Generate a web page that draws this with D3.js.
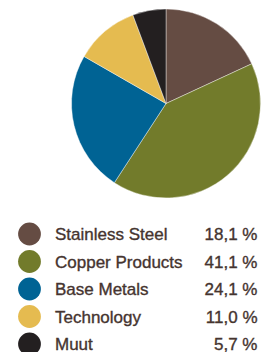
<!DOCTYPE html>
<html><head><meta charset="utf-8">
<script src="https://cdn.jsdelivr.net/npm/d3@7"></script>
<style>html,body{margin:0;padding:0;background:#fff;}</style>
</head><body>
<script>
const categories = ["Stainless Steel","Copper Products","Base Metals","Technology","Muut"];
const values = [18.1, 41.1, 24.1, 11.0, 5.7];
const labels = ["18,1 %","41,1 %","24,1 %","11,0 %","5,7 %"];
const colors = ["#654c43","#727b2b","#006394","#e5bb50","#231f20"];

const W = 263, H = 352;
const svg = d3.select("body").append("svg").attr("width", W).attr("height", H);
const data = categories.map((c,i)=>({c, v: values[i], l: labels[i], col: colors[i]}));

const pie = d3.pie().value(d=>d.v).sort(null);
const arc = d3.arc().innerRadius(0).outerRadius(94.5);
const g = svg.append("g").attr("transform","translate(166,103.5)");
g.selectAll("path").data(pie(data)).join("path")
  .attr("d", arc).attr("fill", d=>d.data.col)
  .attr("stroke","#fff").attr("stroke-width",0.4);

const y = d3.scalePoint().domain(categories).range([234, 344]);
const lg = svg.append("g");
const rows = lg.selectAll("g").data(data).join("g").attr("transform", d=>`translate(0,${y(d.c)})`);
rows.append("circle").attr("cx",29.5).attr("cy",0).attr("r",11.4).attr("fill",d=>d.col);
rows.append("text").attr("x",55).attr("y",0).attr("dy","0.36em")
  .attr("font-family","Liberation Sans, Arial, sans-serif").attr("font-size",17)
  .attr("fill","#45342f").attr("stroke","#45342f").attr("stroke-width",0.35)
  .text(d=>d.c);
rows.append("text").attr("x",257.5).attr("y",0).attr("dy","0.36em").attr("text-anchor","end")
  .attr("font-family","Liberation Sans, Arial, sans-serif").attr("font-size",17)
  .attr("fill","#45342f").attr("stroke","#45342f").attr("stroke-width",0.35)
  .text(d=>d.l);
</script>
</body></html>
